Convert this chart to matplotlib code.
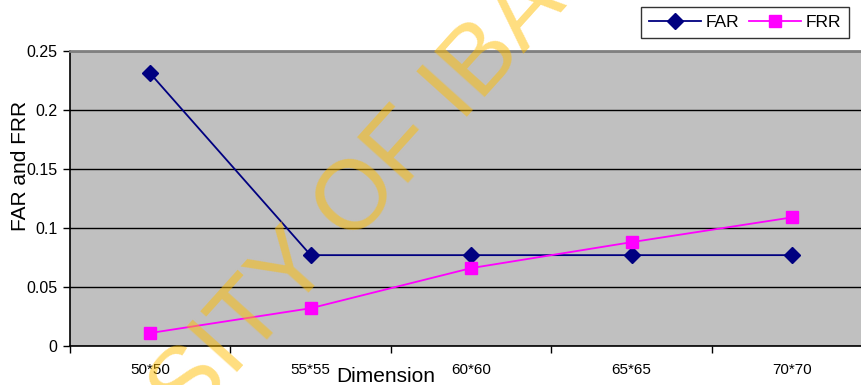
import numpy as np
import matplotlib.pyplot as plt

# Error rates per image dimension
dimensions = ['50*50', '55*55', '60*60', '65*65', '70*70']
far = [0.231, 0.077, 0.077, 0.077, 0.077]
frr = [0.011, 0.032, 0.066, 0.088, 0.109]

plt.rcParams['font.family'] = ['Liberation Sans', 'DejaVu Sans']

W, H = 861, 385
fig = plt.figure(figsize=(W / 100, H / 100), dpi=100)
ax = fig.add_axes([70 / W, 1 - 346 / H, (W - 70) / W, 295 / H])
ax.set_facecolor('#c0c0c0')

x = np.arange(len(dimensions))
ax.plot(x, far, color='#000080', lw=1.3, marker='D', markersize=8, label='FAR', zorder=3)
ax.plot(x, frr, color='#ff00ff', lw=1.3, marker='s', markersize=8, label='FRR', zorder=3)

ax.set_yticks([0, 0.05, 0.1, 0.15, 0.2, 0.25])
ax.set_yticklabels(['0', '0.05', '0.1', '0.15', '0.2', '0.25'])
ax.yaxis.grid(True, color='black', lw=1.0)
ax.set_axisbelow(True)

# category labels sit between the tick marks
ax.set_xticks(x)
ax.set_xticklabels(dimensions)
ax.set_xticks(np.arange(-0.5, len(dimensions), 1.0), minor=True)
ax.tick_params(axis='x', which='major', length=0, pad=12, labelsize=11)
ax.tick_params(axis='x', which='minor', length=5, width=1, direction='out')
ax.tick_params(axis='y', length=5, width=1, direction='out', labelsize=11.5, pad=4)

# limits last, set_xticks would widen them
ax.set_xlim(-0.5, (W - 150) / 160.5)
ax.set_ylim(0, 0.25)

for s in ['left', 'bottom']:
    ax.spines[s].set_color('black')
    ax.spines[s].set_linewidth(1.2)
ax.spines['top'].set_color('#808080')
ax.spines['top'].set_linewidth(2)
ax.spines['right'].set_visible(False)

fig.text(21 / W, 1 - 166 / H, 'FAR and FRR', rotation=90, fontsize=15,
         ha='center', va='center')
fig.text(386 / W, 1 - 382 / H, 'Dimension', fontsize=15, ha='center', va='baseline')

leg = ax.legend(loc='upper right', bbox_to_anchor=(849 / W, 1 - 7 / H),
                bbox_transform=fig.transFigure, ncol=2, frameon=True, fancybox=False,
                borderaxespad=0, fontsize=12.5, handlelength=3.0, handletextpad=0.25,
                columnspacing=0.6, borderpad=0.45)
leg.get_frame().set_edgecolor('black')
leg.get_frame().set_linewidth(1.0)

# library watermark across the figure
fig.text(323 / W, 1 - 277 / H, 'UNIVERSITY OF IBADAN', fontsize=71, color='#ffbd00',
         alpha=0.5, rotation=48, rotation_mode='anchor', ha='center', va='baseline',
         zorder=10)

fig.savefig('out.png', dpi=100)
